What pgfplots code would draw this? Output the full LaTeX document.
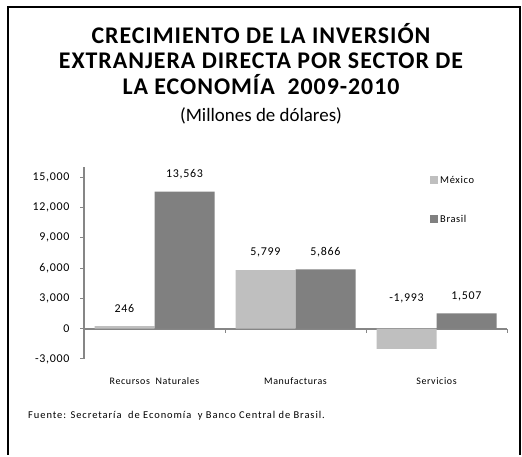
\documentclass[border=0pt]{standalone}
\usepackage{pgfplots}
\pgfplotsset{compat=1.18}
\usepackage{fontspec}
\setmainfont{Carlito}
\newfontfamily\titlefont[LetterSpace=4]{Carlito}
\newfontfamily\tickfont[LetterSpace=6]{Carlito}
\newfontfamily\catfont[LetterSpace=6]{Carlito}
\newfontfamily\legfont[LetterSpace=6]{Carlito}
\newfontfamily\notefont[LetterSpace=9]{Carlito}
\definecolor{mex}{HTML}{BFBFBF}
\definecolor{bra}{HTML}{808080}
\definecolor{axg}{HTML}{868686}
\begin{document}
\begin{tikzpicture}[x=1bp,y=1bp]
\path[fill=white] (0,0) rectangle (522,455);
\path[draw=black, line width=2.5bp] (8,0) -- (8,448) -- (520,448) -- (520,0);
\node[font=\titlefont\fontsize{24}{26}\selectfont\bfseries,anchor=base] at (261,411) {CRECIMIENTO DE LA INVERSIÓN};
\node[font=\titlefont\fontsize{24}{26}\selectfont\bfseries,anchor=base] at (261,386) {EXTRANJERA DIRECTA POR SECTOR DE};
\node[font=\titlefont\fontsize{24}{26}\selectfont\bfseries,anchor=base] at (261,360) {LA ECONOMÍA\ \ 2009-2010};
\node[font=\fontsize{19}{21}\selectfont,anchor=base] at (261,333) {(Millones de dólares)};
\node[font=\notefont\fontsize{10.5}{12}\selectfont,anchor=base west,inner sep=0pt] at (28,36) {Fuente: Secretaría\ \ de Economía\ \ y Banco Central de Brasil.};
\begin{axis}[
  at={(84bp,96bp)}, anchor=south west,
  scale only axis, width=423bp, height=192bp,
  xmin=-0.5, xmax=2.5, ymin=-3000, ymax=16000,
  axis y line=left, axis x line=middle,
  axis line style={axg, line width=2bp, -},
  tick style={axg, line width=1bp},
  tick align=outside, major tick length=4bp,
  scaled y ticks=false,
  ytick={-3000,0,3000,6000,9000,12000,15000},
  yticklabel style={font=\tickfont\fontsize{12}{13}\selectfont, xshift=-7bp},
  xtick={0.5,1.5,2.5}, xticklabels={},
  extra x ticks={0,1,2},
  extra x tick labels={Recursos\ \ Naturales,Manufacturas,Servicios},
  extra x tick style={major tick length=0pt, tick label style={yshift=-45bp}},
  xticklabel style={font=\catfont\fontsize{10}{11}\selectfont},
  /pgf/number format/.cd, 1000 sep={,}, fixed, assume math mode=true,
  /pgfplots/.cd,
  ybar=0pt, bar width=60bp,
  visualization depends on=y \as \rawy,
  nodes near coords={\pgfmathprintnumber[assume math mode=true,1000 sep={,}]{\pgfplotspointmeta}},
  nodes near coords style={font=\tickfont\fontsize{12}{13}\selectfont, anchor=center, black,
     yshift={\rawy<0 ? 51 : 17.5}},
  legend cell align=left,
  legend style={at={(0.818,0.964)}, anchor=north west, draw=none, fill=none,
     font=\legfont\fontsize{10.5}{12}\selectfont, row sep=26bp, inner sep=0pt},
  legend image code/.code={\fill[#1,draw=none] (0bp,-4bp) rectangle (8bp,4bp);},
]
\addplot[fill=mex, draw=none] coordinates {(0,246) (1,5799) (2,-1993)};
\addplot[fill=bra, draw=none] coordinates {(0,13563) (1,5866) (2,1507)};
\legend{México,Brasil}
\end{axis}
\end{tikzpicture}
\end{document}
